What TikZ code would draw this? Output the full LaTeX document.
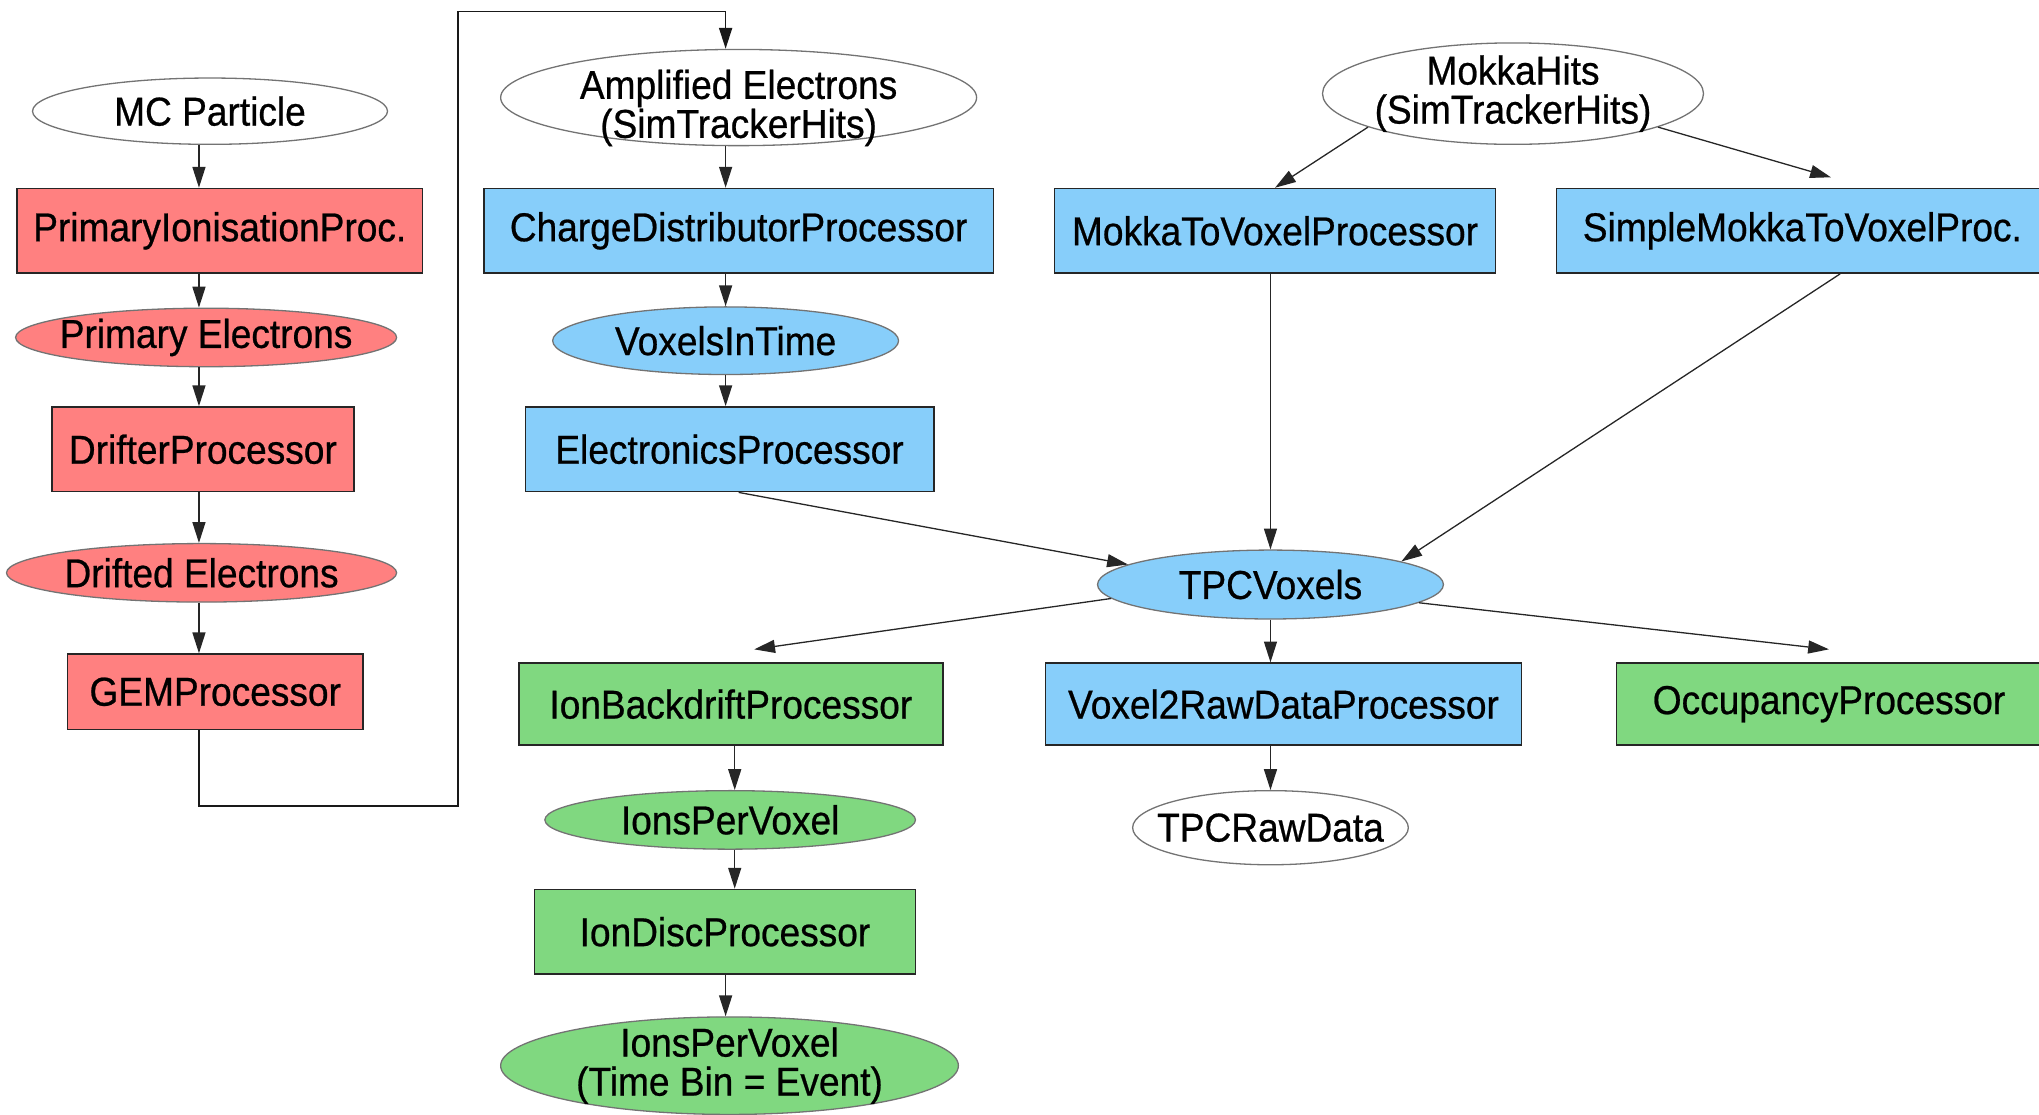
\documentclass[tikz,border=0pt]{standalone}
\usepackage{fontspec}
\setmainfont[FakeStretch=0.92,FakeBold=0.6]{Liberation Sans}
\usetikzlibrary{arrows.meta,shapes.geometric}
\definecolor{cred}{RGB}{255,128,128}
\definecolor{cblue}{RGB}{135,206,250}
\definecolor{cgreen}{RGB}{128,216,128}
\tikzset{
  every node/.style={font=\fontsize{31}{30}\selectfont, align=center, inner sep=0pt},
  proc/.style={rectangle, draw=black!85, line width=1.3pt},
  coll/.style={ellipse, draw=black!55, line width=1pt},
  edge/.style={draw=black!85, line width=1pt, -{Triangle[length=16pt,width=10pt]}},
  plain/.style={draw=black!90, line width=1.2pt},
}
\begin{document}
\begin{tikzpicture}[x=1pt,y=-1pt]
\useasboundingbox (0,0) rectangle (1568,857);
% red column
\node[coll, fill=white, minimum width=273pt, minimum height=51pt, label=center:{MC Particle}] (mc) at (161.5,85.5) {};
\node[proc, fill=cred, minimum width=312pt, minimum height=65pt] (pip) at (169,177.5) {PrimaryIonisationProc.};
\node[coll, fill=cred, minimum width=293pt, minimum height=45pt, label=center:{Primary Electrons}] (pe) at (158.5,259.5) {};
\node[proc, fill=cred, minimum width=232pt, minimum height=65pt] (drift) at (156,345.5) {DrifterProcessor};
\node[coll, fill=cred, minimum width=300pt, minimum height=45pt, label=center:{Drifted Electrons}] (de) at (155,440.5) {};
\node[proc, fill=cred, minimum width=227pt, minimum height=58pt] (gem) at (165.5,532) {GEMProcessor};
% blue middle column
\node[coll, fill=white, minimum width=366pt, minimum height=74pt, label={[yshift=-8pt]center:{Amplified Electrons\\(SimTrackerHits)}}] (amp) at (568,75) {};
\node[proc, fill=cblue, minimum width=392pt, minimum height=65pt] (cdp) at (568,177.5) {ChargeDistributorProcessor};
\node[coll, fill=cblue, minimum width=266pt, minimum height=52pt, label=center:{VoxelsInTime}] (vit) at (558,262) {};
\node[proc, fill=cblue, minimum width=314pt, minimum height=65pt] (ep) at (561,345.5) {ElectronicsProcessor};
% mokka
\node[coll, fill=white, minimum width=293pt, minimum height=78pt, label=center:{MokkaHits\\(SimTrackerHits)}] (mokka) at (1163.5,72) {};
\node[proc, fill=cblue, minimum width=339pt, minimum height=65pt] (mtvp) at (980.5,177.5) {MokkaToVoxelProcessor};
\node[proc, fill=cblue, minimum width=378pt, minimum height=65pt] (smtvp) at (1386,177.5) {SimpleMokkaToVoxelProc.};
% TPC voxels
\node[coll, fill=cblue, minimum width=266pt, minimum height=53pt, label=center:{TPCVoxels}] (tpc) at (977,449.5) {};
\node[proc, fill=cgreen, minimum width=326pt, minimum height=63pt] (ibp) at (562,541.5) {IonBackdriftProcessor};
\node[proc, fill=cblue, minimum width=366pt, minimum height=63pt] (v2r) at (987,541.5) {Voxel2RawDataProcessor};
\node[proc, fill=cgreen, minimum width=327pt, minimum height=63pt] (occ) at (1406.5,541.5) {OccupancyProcessor};
\node[coll, fill=cgreen, minimum width=285pt, minimum height=45pt, label=center:{IonsPerVoxel}] (ipv) at (561.5,630.5) {};
\node[coll, fill=white, minimum width=212pt, minimum height=57pt, label=center:{TPCRawData}] (trd) at (977,636.5) {};
\node[proc, fill=cgreen, minimum width=293pt, minimum height=65pt] (idp) at (557.5,716.5) {IonDiscProcessor};
\node[coll, fill=cgreen, minimum width=352pt, minimum height=75pt, label=center:{IonsPerVoxel\\(Time Bin = Event)}] (ipv2) at (561,819.5) {};
% helper coordinates
\coordinate (colL) at (153,0);
\coordinate (colM) at (558,0);
\coordinate (colI) at (565,0);
\coordinate (b1) at (153,620);
\coordinate (b2) at (352,620);
\coordinate (b3) at (352,9);
\coordinate (b4) at (558,9);
% left column edges
\draw[edge] (mc.south -| colL) -- (pip.north -| colL);
\draw[edge] (pip.south -| colL) -- (pe.north -| colL);
\draw[edge] (pe.south -| colL) -- (drift.north -| colL);
\draw[edge] (drift.south -| colL) -- (de.north -| colL);
\draw[edge] (de.south -| colL) -- (gem.north -| colL);
\draw[plain, -{Triangle[length=16pt,width=10pt]}] (gem.south -| colL) -- (b1) -- (b2) -- (b3) -- (b4) -- (amp.north -| colM);
% middle column
\draw[edge] (amp.south -| colM) -- (cdp.north -| colM);
\draw[edge] (cdp.south -| colM) -- (vit.north -| colM);
\draw[edge] (vit.south -| colM) -- (ep.north -| colM);
\draw[edge] ([xshift=7pt]ep.south) -- (tpc.172);
% mokka
\draw[edge] (mokka.193) -- (mtvp.north);
\draw[edge] (mokka.-13) -- ([xshift=22pt,yshift=8pt]smtvp.north);
\draw[edge] (mtvp.south -| tpc.north) -- (tpc.north);
\draw[edge] ([xshift=29pt]smtvp.south) -- (tpc.10);
% from TPC voxels
\draw[edge] (tpc.185) -- ([xshift=18pt,yshift=10pt]ibp.north);
\draw[edge] (tpc.south) -- (tpc.south |- v2r.north);
\draw[edge] (tpc.-7) -- ([yshift=10pt]occ.north);
\draw[edge] (v2r.south -| tpc.south) -- (trd.north);
% green column
\draw[edge] (ibp.south -| colI) -- (ipv.north -| colI);
\draw[edge] (ipv.south -| colI) -- (idp.north -| colI);
\draw[edge] (idp.south -| colM) -- (ipv2.north -| colM);
\end{tikzpicture}
\end{document}
